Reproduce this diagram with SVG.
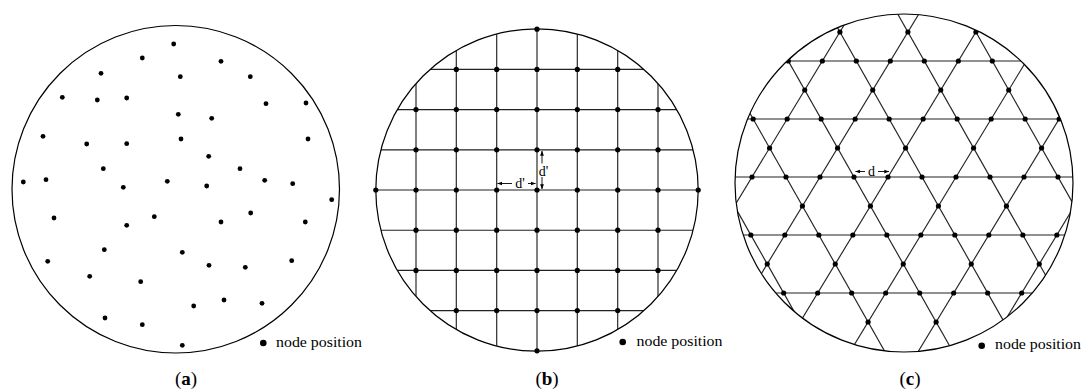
<svg xmlns="http://www.w3.org/2000/svg" width="1088" height="391" viewBox="0 0 1088 391">
<style>
.bd{fill:none;stroke:#000;stroke-width:1.2}
.ln{stroke:#222;stroke-width:1.15;fill:none}
.n{fill:#000}
.ar{stroke:#000;stroke-width:0.9;fill:none}
text{font-family:'Liberation Serif','Times New Roman','DejaVu Serif',serif;fill:#000}
.lg{font-size:15px}
.lb{font-size:14px}
.cap{font-size:19px}
</style>
<defs>
<marker id="ah" viewBox="0 0 8 8" refX="7.5" refY="4" markerWidth="5" markerHeight="5" orient="auto" markerUnits="userSpaceOnUse">
<path d="M0,1 L8,4 L0,7 Z" fill="#000"/>
</marker>
<clipPath id="cb"><circle cx="537" cy="190" r="161.2"/></clipPath>
<clipPath id="cc"><circle cx="904" cy="183" r="169"/></clipPath>
</defs>

<!-- Panel (a): random -->
<g id="panel-a">
<circle class="bd" cx="175.75" cy="189.25" r="163.75"/>
<g id="nodes-a" class="n">
<circle cx="173.7" cy="44" r="2.4"/><circle cx="142.3" cy="58" r="2.4"/><circle cx="221" cy="61.3" r="2.4"/>
<circle cx="101" cy="73.3" r="2.4"/><circle cx="180.3" cy="76.7" r="2.4"/><circle cx="250.3" cy="76.7" r="2.4"/>
<circle cx="62.3" cy="97.3" r="2.4"/><circle cx="97.3" cy="100" r="2.4"/><circle cx="126.7" cy="98" r="2.4"/>
<circle cx="266" cy="103.7" r="2.4"/><circle cx="306" cy="103" r="2.4"/><circle cx="178.3" cy="114.3" r="2.4"/>
<circle cx="211.7" cy="118.3" r="2.4"/><circle cx="43" cy="136.3" r="2.4"/><circle cx="86.7" cy="144" r="2.4"/>
<circle cx="126.7" cy="143.7" r="2.4"/><circle cx="181" cy="139" r="2.4"/><circle cx="308" cy="139" r="2.4"/>
<circle cx="208.7" cy="156.3" r="2.4"/><circle cx="103.3" cy="168.7" r="2.4"/><circle cx="240" cy="168.7" r="2.4"/>
<circle cx="23.3" cy="182" r="2.4"/><circle cx="46" cy="179.7" r="2.4"/><circle cx="123.3" cy="187.3" r="2.4"/>
<circle cx="167.3" cy="181.3" r="2.4"/><circle cx="206.7" cy="186" r="2.4"/><circle cx="264.7" cy="180.3" r="2.4"/>
<circle cx="292.7" cy="183.7" r="2.4"/><circle cx="331.7" cy="199.7" r="2.4"/><circle cx="54" cy="218" r="2.4"/>
<circle cx="154.3" cy="216.7" r="2.4"/><circle cx="126.7" cy="225.3" r="2.4"/><circle cx="221" cy="222" r="2.4"/>
<circle cx="250.7" cy="213" r="2.4"/><circle cx="305.3" cy="222" r="2.4"/><circle cx="104.3" cy="249.7" r="2.4"/>
<circle cx="182.3" cy="252.3" r="2.4"/><circle cx="47.7" cy="261.3" r="2.4"/><circle cx="209" cy="265.3" r="2.4"/>
<circle cx="245.3" cy="267.3" r="2.4"/><circle cx="291.7" cy="260.7" r="2.4"/><circle cx="89.7" cy="276.3" r="2.4"/>
<circle cx="140.7" cy="281.7" r="2.4"/><circle cx="193.7" cy="306" r="2.4"/><circle cx="224" cy="300" r="2.4"/>
<circle cx="262" cy="303.3" r="2.4"/><circle cx="105" cy="318" r="2.4"/><circle cx="142.3" cy="324.7" r="2.4"/>
<circle cx="182.3" cy="345.3" r="2.4"/>
</g>
<g id="legend-a"><circle class="n" cx="263.3" cy="343" r="3.3"/><text class="lg" font-family="Liberation Serif, serif" x="276" y="346.5" textLength="86" lengthAdjust="spacingAndGlyphs">node position</text></g>
<text id="cap-a" class="cap" font-family="Liberation Serif, serif" x="186" y="385" text-anchor="middle">(<tspan font-weight="bold">a</tspan>)</text>
</g>

<!-- Panel (b): square grid -->
<g id="panel-b">
<g id="connectors-b" clip-path="url(#cb)">
<g class="ln">
<line x1="416" y1="20" x2="416" y2="360"/><line x1="456.3" y1="20" x2="456.3" y2="360"/>
<line x1="496.7" y1="20" x2="496.7" y2="360"/><line x1="537" y1="20" x2="537" y2="360"/>
<line x1="577.3" y1="20" x2="577.3" y2="360"/><line x1="617.7" y1="20" x2="617.7" y2="360"/>
<line x1="658" y1="20" x2="658" y2="360"/>
<line x1="370" y1="69.4" x2="705" y2="69.4"/><line x1="370" y1="109.6" x2="705" y2="109.6"/>
<line x1="370" y1="149.8" x2="705" y2="149.8"/><line x1="370" y1="190" x2="705" y2="190"/>
<line x1="370" y1="230.2" x2="705" y2="230.2"/><line x1="370" y1="270.4" x2="705" y2="270.4"/>
<line x1="370" y1="310.6" x2="705" y2="310.6"/>
</g>
</g>
<circle class="bd" cx="537" cy="190" r="161.2"/>
<g id="nodes-b" class="n">
<circle cx="537" cy="29.2" r="2.6"/>
<circle cx="456.3" cy="69.4" r="2.6"/><circle cx="496.7" cy="69.4" r="2.6"/><circle cx="537" cy="69.4" r="2.6"/><circle cx="577.3" cy="69.4" r="2.6"/><circle cx="617.7" cy="69.4" r="2.6"/>
<circle cx="416" cy="109.6" r="2.6"/><circle cx="456.3" cy="109.6" r="2.6"/><circle cx="496.7" cy="109.6" r="2.6"/><circle cx="537" cy="109.6" r="2.6"/><circle cx="577.3" cy="109.6" r="2.6"/><circle cx="617.7" cy="109.6" r="2.6"/><circle cx="658" cy="109.6" r="2.6"/>
<circle cx="416" cy="149.8" r="2.6"/><circle cx="456.3" cy="149.8" r="2.6"/><circle cx="496.7" cy="149.8" r="2.6"/><circle cx="537" cy="149.8" r="2.6"/><circle cx="577.3" cy="149.8" r="2.6"/><circle cx="617.7" cy="149.8" r="2.6"/><circle cx="658" cy="149.8" r="2.6"/>
<circle cx="375.8" cy="190" r="2.6"/><circle cx="416" cy="190" r="2.6"/><circle cx="456.3" cy="190" r="2.6"/><circle cx="496.7" cy="190" r="2.6"/><circle cx="537" cy="190" r="2.6"/><circle cx="577.3" cy="190" r="2.6"/><circle cx="617.7" cy="190" r="2.6"/><circle cx="658" cy="190" r="2.6"/><circle cx="698.2" cy="190" r="2.6"/>
<circle cx="416" cy="230.2" r="2.6"/><circle cx="456.3" cy="230.2" r="2.6"/><circle cx="496.7" cy="230.2" r="2.6"/><circle cx="537" cy="230.2" r="2.6"/><circle cx="577.3" cy="230.2" r="2.6"/><circle cx="617.7" cy="230.2" r="2.6"/><circle cx="658" cy="230.2" r="2.6"/>
<circle cx="416" cy="270.4" r="2.6"/><circle cx="456.3" cy="270.4" r="2.6"/><circle cx="496.7" cy="270.4" r="2.6"/><circle cx="537" cy="270.4" r="2.6"/><circle cx="577.3" cy="270.4" r="2.6"/><circle cx="617.7" cy="270.4" r="2.6"/><circle cx="658" cy="270.4" r="2.6"/>
<circle cx="456.3" cy="310.6" r="2.6"/><circle cx="496.7" cy="310.6" r="2.6"/><circle cx="537" cy="310.6" r="2.6"/><circle cx="577.3" cy="310.6" r="2.6"/><circle cx="617.7" cy="310.6" r="2.6"/>
<circle cx="537" cy="350.8" r="2.6"/>
</g>
<g id="dim-b">
<line class="ar" x1="512" y1="183.5" x2="497.5" y2="183.5" marker-end="url(#ah)"/>
<line class="ar" x1="528" y1="183.5" x2="535.5" y2="183.5" marker-end="url(#ah)"/>
<text class="lb" font-family="Liberation Serif, serif" x="520" y="187.5" text-anchor="middle">d'</text>
<line class="ar" x1="542" y1="163.5" x2="542" y2="151" marker-end="url(#ah)"/>
<line class="ar" x1="542" y1="177" x2="542" y2="189" marker-end="url(#ah)"/>
<text class="lb" font-family="Liberation Serif, serif" x="543.5" y="175.5" text-anchor="middle">d'</text>
</g>
<g id="legend-b"><circle class="n" cx="622.7" cy="342" r="3.3"/><text class="lg" font-family="Liberation Serif, serif" x="636.5" y="345.5" textLength="86" lengthAdjust="spacingAndGlyphs">node position</text></g>
<text id="cap-b" class="cap" font-family="Liberation Serif, serif" x="547" y="385" text-anchor="middle">(<tspan font-weight="bold">b</tspan>)</text>
</g>

<!-- Panel (c): kagome lattice -->
<g id="panel-c">
<g clip-path="url(#cc)">
<g id="lattice-c" transform="matrix(1 0 -0.02 1 3.54 0)">
<g id="connectors-c" class="ln">
<line x1="690" y1="61" x2="1120" y2="61"/><line x1="690" y1="119" x2="1120" y2="119"/>
<line x1="690" y1="177" x2="1120" y2="177"/><line x1="690" y1="235" x2="1120" y2="235"/>
<line x1="690" y1="293" x2="1120" y2="293"/>
<line x1="429" y1="380" x2="667" y2="-26"/><line x1="497" y1="380" x2="735" y2="-26"/>
<line x1="565" y1="380" x2="803" y2="-26"/><line x1="633" y1="380" x2="871" y2="-26"/>
<line x1="701" y1="380" x2="939" y2="-26"/><line x1="769" y1="380" x2="1007" y2="-26"/>
<line x1="837" y1="380" x2="1075" y2="-26"/><line x1="905" y1="380" x2="1143" y2="-26"/>
<line x1="973" y1="380" x2="1211" y2="-26"/><line x1="1041" y1="380" x2="1279" y2="-26"/>
<line x1="1109" y1="380" x2="1347" y2="-26"/>
<line x1="395" y1="-26" x2="633" y2="380"/><line x1="463" y1="-26" x2="701" y2="380"/>
<line x1="531" y1="-26" x2="769" y2="380"/><line x1="599" y1="-26" x2="837" y2="380"/>
<line x1="667" y1="-26" x2="905" y2="380"/><line x1="735" y1="-26" x2="973" y2="380"/>
<line x1="803" y1="-26" x2="1041" y2="380"/><line x1="871" y1="-26" x2="1109" y2="380"/>
<line x1="939" y1="-26" x2="1177" y2="380"/><line x1="1007" y1="-26" x2="1245" y2="380"/>
<line x1="1075" y1="-26" x2="1313" y2="380"/>
</g>
<g id="nodes-c" class="n">
<circle cx="837" cy="32" r="2.6"/><circle cx="905" cy="32" r="2.6"/><circle cx="973" cy="32" r="2.6"/>
<circle cx="786" cy="61" r="2.6"/><circle cx="820" cy="61" r="2.6"/><circle cx="854" cy="61" r="2.6"/><circle cx="888" cy="61" r="2.6"/><circle cx="922" cy="61" r="2.6"/><circle cx="956" cy="61" r="2.6"/><circle cx="990" cy="61" r="2.6"/>
<circle cx="803" cy="90" r="2.6"/><circle cx="871" cy="90" r="2.6"/><circle cx="939" cy="90" r="2.6"/><circle cx="1007" cy="90" r="2.6"/>
<circle cx="752" cy="119" r="2.6"/><circle cx="786" cy="119" r="2.6"/><circle cx="820" cy="119" r="2.6"/><circle cx="854" cy="119" r="2.6"/><circle cx="888" cy="119" r="2.6"/><circle cx="922" cy="119" r="2.6"/><circle cx="956" cy="119" r="2.6"/><circle cx="990" cy="119" r="2.6"/><circle cx="1024" cy="119" r="2.6"/><circle cx="1058" cy="119" r="2.6"/>
<circle cx="769" cy="148" r="2.6"/><circle cx="837" cy="148" r="2.6"/><circle cx="905" cy="148" r="2.6"/><circle cx="973" cy="148" r="2.6"/><circle cx="1041" cy="148" r="2.6"/>
<circle cx="752" cy="177" r="2.6"/><circle cx="786" cy="177" r="2.6"/><circle cx="820" cy="177" r="2.6"/><circle cx="854" cy="177" r="2.6"/><circle cx="888" cy="177" r="2.6"/><circle cx="922" cy="177" r="2.6"/><circle cx="956" cy="177" r="2.6"/><circle cx="990" cy="177" r="2.6"/><circle cx="1024" cy="177" r="2.6"/><circle cx="1058" cy="177" r="2.6"/>
<circle cx="803" cy="206" r="2.6"/><circle cx="871" cy="206" r="2.6"/><circle cx="939" cy="206" r="2.6"/><circle cx="1007" cy="206" r="2.6"/>
<circle cx="752" cy="235" r="2.6"/><circle cx="786" cy="235" r="2.6"/><circle cx="820" cy="235" r="2.6"/><circle cx="854" cy="235" r="2.6"/><circle cx="888" cy="235" r="2.6"/><circle cx="922" cy="235" r="2.6"/><circle cx="956" cy="235" r="2.6"/><circle cx="990" cy="235" r="2.6"/><circle cx="1024" cy="235" r="2.6"/><circle cx="1058" cy="235" r="2.6"/>
<circle cx="769" cy="264" r="2.6"/><circle cx="837" cy="264" r="2.6"/><circle cx="905" cy="264" r="2.6"/><circle cx="973" cy="264" r="2.6"/><circle cx="1041" cy="264" r="2.6"/>
<circle cx="786" cy="293" r="2.6"/><circle cx="820" cy="293" r="2.6"/><circle cx="854" cy="293" r="2.6"/><circle cx="888" cy="293" r="2.6"/><circle cx="922" cy="293" r="2.6"/><circle cx="956" cy="293" r="2.6"/><circle cx="990" cy="293" r="2.6"/><circle cx="1024" cy="293" r="2.6"/>
<circle cx="871" cy="322" r="2.6"/><circle cx="939" cy="322" r="2.6"/>
</g>
</g>
</g>
<circle class="bd" cx="904" cy="183" r="169"/>
<g id="dim-c">
<line class="ar" x1="865" y1="171.5" x2="855.5" y2="171.5" marker-end="url(#ah)"/>
<line class="ar" x1="878" y1="171.5" x2="889" y2="171.5" marker-end="url(#ah)"/>
<text class="lb" font-family="Liberation Serif, serif" x="871.5" y="175.5" text-anchor="middle">d</text>
</g>
<g id="legend-c"><circle class="n" cx="981.7" cy="345.7" r="3.3"/><text class="lg" font-family="Liberation Serif, serif" x="995" y="349.3" textLength="86" lengthAdjust="spacingAndGlyphs">node position</text></g>
<text id="cap-c" class="cap" font-family="Liberation Serif, serif" x="910" y="385" text-anchor="middle">(<tspan font-weight="bold">c</tspan>)</text>
</g>
</svg>
